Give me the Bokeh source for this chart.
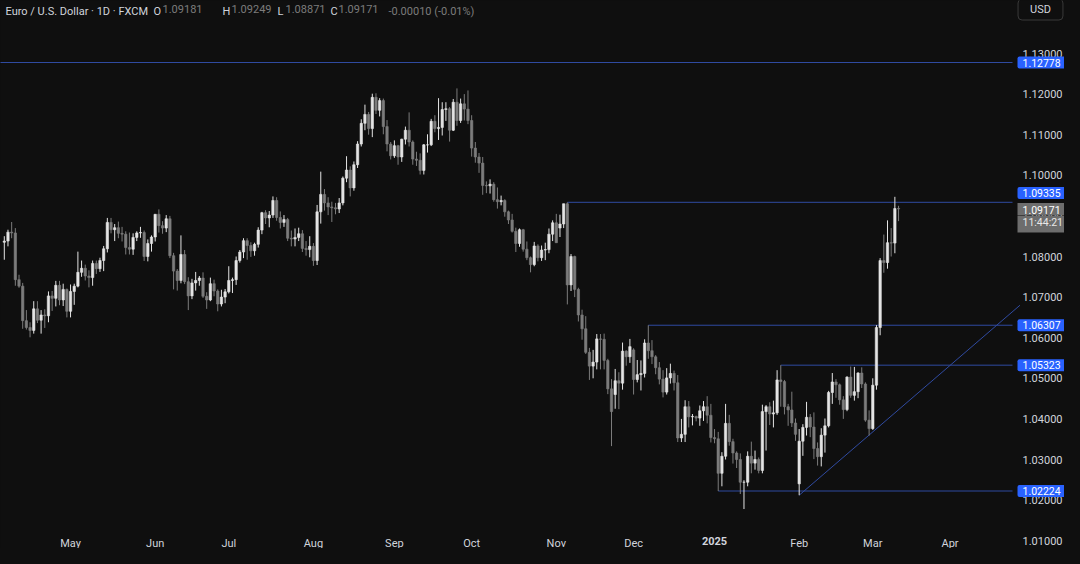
import numpy as np
import pandas as pd
from bokeh.plotting import figure
from bokeh.models import ColumnDataSource, Label, Range1d
from bokeh.core.properties import value
from bokeh.embed import file_html
from bokeh.resources import INLINE

# ---------------- data (EUR/USD daily, FXCM) ----------------
first_day = "2024-04-05"
last_day = "2025-03-12"

opens = [
    # Apr 2024
    1.0835, 1.0838, 1.0860, 1.0858, 1.0743, 1.0727, 1.0642, 1.0625, 1.0618, 1.0671, 1.0643, 1.0656, 1.0654, 1.0703, 1.0697, 1.0729, 1.0693, 1.0719,
    # May
    1.0665, 1.0714, 1.0727, 1.0761, 1.0771, 1.0752, 1.0748, 1.0783, 1.0770, 1.0790, 1.0819, 1.0884, 1.0866, 1.0871, 1.0857, 1.0855, 1.0822, 1.0818, 1.0847, 1.0858, 1.0859, 1.0800, 1.0832,
    # Jun
    1.0848, 1.0904, 1.0876, 1.0870, 1.0893, 1.0802, 1.0764, 1.0741, 1.0805, 1.0738, 1.0703, 1.0735, 1.0741, 1.0747, 1.0702, 1.0693, 1.0733, 1.0715, 1.0683, 1.0700,
    # Jul
    1.0713, 1.0741, 1.0743, 1.0790, 1.0811, 1.0839, 1.0827, 1.0814, 1.0830, 1.0865, 1.0908, 1.0895, 1.0902, 1.0938, 1.0896, 1.0884, 1.0891, 1.0845, 1.0843, 1.0847, 1.0856, 1.0820, 1.0817,
    # Aug
    1.0825, 1.0790, 1.0910, 1.0953, 1.0932, 1.0922, 1.0920, 1.0917, 1.0932, 1.0993, 1.1013, 1.0969, 1.1026, 1.1077, 1.1128, 1.1150, 1.1115, 1.1192, 1.1160, 1.1184, 1.1120, 1.1077,
    # Sep
    1.1048, 1.1073, 1.1045, 1.1089, 1.1111, 1.1082, 1.1040, 1.1037, 1.1012, 1.1075, 1.1075, 1.1133, 1.1115, 1.1118, 1.1162, 1.1164, 1.1111, 1.1180, 1.1135, 1.1176, 1.1163,
    # Oct
    1.1135, 1.1067, 1.1045, 1.1030, 1.0975, 1.0974, 1.0978, 1.0940, 1.0935, 1.0938, 1.0910, 1.0890, 1.0862, 1.0832, 1.0866, 1.0818, 1.0797, 1.0780, 1.0826, 1.0797, 1.0816, 1.0817, 1.0855,
    # Nov
    1.0883, 1.0870, 1.0880, 1.0930, 1.0730, 1.0800, 1.0719, 1.0656, 1.0622, 1.0564, 1.0530, 1.0540, 1.0597, 1.0596, 1.0544, 1.0474, 1.0460, 1.0494, 1.0488, 1.0567, 1.0553,
    # Dec
    1.0570, 1.0497, 1.0509, 1.0512, 1.0587, 1.0568, 1.0553, 1.0526, 1.0498, 1.0466, 1.0501, 1.0512, 1.0489, 1.0353, 1.0362, 1.0430, 1.0405, 1.0406, 1.0402, 1.0420, 1.0430, 1.0409,
    # Jan 2025
    1.0354, 1.0351, 1.0266, 1.0308, 1.0389, 1.0344, 1.0316, 1.0300, 1.0244, 1.0244, 1.0308, 1.0291, 1.0300, 1.0273, 1.0418, 1.0430, 1.0412, 1.0415, 1.0496, 1.0492, 1.0430, 1.0422, 1.0390,
    # Feb
    1.0240, 1.0345, 1.0379, 1.0404, 1.0380, 1.0327, 1.0307, 1.0360, 1.0383, 1.0465, 1.0491, 1.0484, 1.0447, 1.0423, 1.0503, 1.0458, 1.0467, 1.0513, 1.0486, 1.0397,
    # Mar
    1.0376, 1.0483, 1.0625, 1.0790, 1.0785, 1.0834, 1.0833, 1.09181,
]
highs = [
    1.0850, 1.0866, 1.0885, 1.0870, 1.0755, 1.0735, 1.0668, 1.0638, 1.0690, 1.0690, 1.0668, 1.0670, 1.0714, 1.0715, 1.0740, 1.0740, 1.0733, 1.0721,
    1.0731, 1.0733, 1.0812, 1.0790, 1.0780, 1.0766, 1.0790, 1.0790, 1.0797, 1.0826, 1.0895, 1.0895, 1.0880, 1.0886, 1.0873, 1.0862, 1.0859, 1.0857, 1.0862, 1.0873, 1.0864, 1.0842, 1.0852,
    1.0904, 1.0916, 1.0887, 1.0902, 1.0900, 1.0809, 1.0769, 1.0852, 1.0816, 1.0749, 1.0745, 1.0762, 1.0752, 1.0761, 1.0712, 1.0748, 1.0743, 1.0719, 1.0718, 1.0720,
    1.0776, 1.0748, 1.0800, 1.0816, 1.0845, 1.0845, 1.0835, 1.0834, 1.0872, 1.0910, 1.0914, 1.0912, 1.0948, 1.0946, 1.0911, 1.0902, 1.0895, 1.0864, 1.0869, 1.0871, 1.0865, 1.0838, 1.0850,
    1.0833, 1.0927, 1.1009, 1.0966, 1.0946, 1.0935, 1.0932, 1.0944, 1.0997, 1.1047, 1.1022, 1.1034, 1.1084, 1.1138, 1.1174, 1.1156, 1.1201, 1.1202, 1.1190, 1.1189, 1.1136, 1.1082,
    1.1086, 1.1075, 1.1090, 1.1120, 1.1155, 1.1086, 1.1058, 1.1054, 1.1077, 1.1101, 1.1139, 1.1148, 1.1190, 1.1180, 1.1180, 1.1168, 1.1188, 1.1214, 1.1189, 1.1200, 1.1209,
    1.1148, 1.1082, 1.1055, 1.1045, 1.0985, 1.0990, 1.0983, 1.0970, 1.0950, 1.0941, 1.0913, 1.0905, 1.0871, 1.0869, 1.0868, 1.0837, 1.0800, 1.0836, 1.0830, 1.0827, 1.0834, 1.0869, 1.0889,
    1.0905, 1.0903, 1.0930, 1.09335, 1.0806, 1.0802, 1.0723, 1.0669, 1.0653, 1.0575, 1.0570, 1.0609, 1.0609, 1.0610, 1.0548, 1.0498, 1.0523, 1.0515, 1.0588, 1.0569, 1.0597,
    1.0574, 1.0545, 1.0544, 1.0596, 1.06307, 1.0594, 1.0557, 1.0540, 1.0520, 1.0525, 1.0536, 1.0519, 1.0508, 1.0400, 1.0446, 1.0444, 1.0412, 1.0408, 1.0433, 1.0444, 1.0456, 1.0437,
    1.0375, 1.0368, 1.0318, 1.0437, 1.0410, 1.0351, 1.0320, 1.0315, 1.0249, 1.0320, 1.0344, 1.0322, 1.0305, 1.0435, 1.0434, 1.0441, 1.0445, 1.0520, 1.05323, 1.0496, 1.0437, 1.0467, 1.0401,
    1.0375, 1.0387, 1.0442, 1.0412, 1.0416, 1.0342, 1.0377, 1.0401, 1.0469, 1.0513, 1.0498, 1.0487, 1.0456, 1.0505, 1.0529, 1.0528, 1.0515, 1.0527, 1.0490, 1.0421,
    1.0500, 1.0631, 1.0796, 1.0854, 1.0889, 1.0870, 1.0947, 1.09249,
]
lows = [
    1.0792, 1.0825, 1.0845, 1.0728, 1.0723, 1.0622, 1.0620, 1.0601, 1.0610, 1.0636, 1.0610, 1.0624, 1.0638, 1.0666, 1.0677, 1.0680, 1.0678, 1.0650,
    1.0650, 1.0681, 1.0724, 1.0750, 1.0741, 1.0724, 1.0728, 1.0757, 1.0762, 1.0764, 1.0810, 1.0857, 1.0838, 1.0845, 1.0837, 1.0805, 1.0805, 1.0804, 1.0838, 1.0846, 1.0789, 1.0788, 1.0812,
    1.0837, 1.0859, 1.0856, 1.0860, 1.0796, 1.0719, 1.0716, 1.0734, 1.0732, 1.0668, 1.0695, 1.0716, 1.0728, 1.0698, 1.0671, 1.0690, 1.0702, 1.0665, 1.0677, 1.0685,
    1.0709, 1.0710, 1.0730, 1.0785, 1.0796, 1.0792, 1.0799, 1.0802, 1.0822, 1.0855, 1.0880, 1.0872, 1.0895, 1.0888, 1.0869, 1.0873, 1.0838, 1.0825, 1.0825, 1.0838, 1.0811, 1.0802, 1.0798,
    1.0777, 1.0779, 1.0881, 1.0913, 1.0902, 1.0885, 1.0904, 1.0907, 1.0926, 1.0983, 1.0948, 1.0962, 1.1018, 1.1071, 1.1111, 1.1100, 1.1094, 1.1151, 1.1145, 1.1101, 1.1059, 1.1039,
    1.1043, 1.1026, 1.1033, 1.1076, 1.1071, 1.1026, 1.1023, 1.1002, 1.1002, 1.1056, 1.1072, 1.1106, 1.1087, 1.1098, 1.1134, 1.1083, 1.1109, 1.1122, 1.1129, 1.1135, 1.1126,
    1.1046, 1.1031, 1.1006, 1.0952, 1.0956, 1.0955, 1.0935, 1.0918, 1.0926, 1.0898, 1.0880, 1.0859, 1.0811, 1.0824, 1.0812, 1.0791, 1.0761, 1.0776, 1.0788, 1.0789, 1.0791, 1.0808, 1.0838,
    1.0834, 1.0848, 1.0870, 1.0682, 1.0715, 1.0700, 1.0640, 1.0595, 1.0560, 1.0496, 1.0500, 1.0522, 1.0522, 1.0522, 1.0461, 1.0333, 1.0425, 1.0424, 1.0472, 1.0531, 1.0538,
    1.0460, 1.0490, 1.0470, 1.0502, 1.0548, 1.0535, 1.0510, 1.0485, 1.0453, 1.0460, 1.0487, 1.0470, 1.0343, 1.0343, 1.0343, 1.0379, 1.0384, 1.0394, 1.0383, 1.0395, 1.0389, 1.0342,
    1.0340, 1.02224, 1.0234, 1.0300, 1.0334, 1.0290, 1.0279, 1.0215, 1.0178, 1.0234, 1.0266, 1.0275, 1.0266, 1.0266, 1.0322, 1.0385, 1.0379, 1.0410, 1.0430, 1.0411, 1.0383, 1.0380, 1.0346,
    1.0212, 1.0309, 1.0359, 1.0355, 1.0301, 1.0285, 1.0283, 1.0317, 1.0379, 1.0437, 1.0452, 1.0435, 1.0400, 1.0419, 1.0452, 1.0445, 1.0451, 1.0476, 1.0393, 1.0359,
    1.0373, 1.0472, 1.0606, 1.0760, 1.0770, 1.0800, 1.0808, 1.08871,
]
closes = [
    1.0838, 1.0860, 1.0858, 1.0743, 1.0727, 1.0642, 1.0625, 1.0618, 1.0671, 1.0643, 1.0656, 1.0654, 1.0703, 1.0697, 1.0729, 1.0693, 1.0719, 1.0665,
    1.0714, 1.0727, 1.0761, 1.0771, 1.0752, 1.0748, 1.0783, 1.0770, 1.0790, 1.0819, 1.0884, 1.0866, 1.0871, 1.0857, 1.0855, 1.0822, 1.0818, 1.0847, 1.0858, 1.0859, 1.0800, 1.0832, 1.0848,
    1.0904, 1.0876, 1.0870, 1.0893, 1.0802, 1.0764, 1.0741, 1.0805, 1.0738, 1.0703, 1.0735, 1.0741, 1.0747, 1.0702, 1.0693, 1.0733, 1.0715, 1.0683, 1.0700, 1.0713,
    1.0741, 1.0743, 1.0790, 1.0811, 1.0839, 1.0827, 1.0814, 1.0830, 1.0865, 1.0908, 1.0895, 1.0902, 1.0938, 1.0896, 1.0884, 1.0891, 1.0845, 1.0843, 1.0847, 1.0856, 1.0820, 1.0817, 1.0825,
    1.0790, 1.0910, 1.0953, 1.0932, 1.0922, 1.0920, 1.0917, 1.0932, 1.0993, 1.1013, 1.0969, 1.1026, 1.1077, 1.1128, 1.1150, 1.1115, 1.1192, 1.1160, 1.1184, 1.1120, 1.1077, 1.1048,
    1.1073, 1.1045, 1.1089, 1.1111, 1.1082, 1.1040, 1.1037, 1.1012, 1.1075, 1.1075, 1.1133, 1.1115, 1.1118, 1.1162, 1.1164, 1.1111, 1.1180, 1.1135, 1.1176, 1.1163, 1.1135,
    1.1067, 1.1045, 1.1030, 1.0975, 1.0974, 1.0978, 1.0940, 1.0935, 1.0938, 1.0910, 1.0890, 1.0862, 1.0832, 1.0866, 1.0818, 1.0797, 1.0780, 1.0826, 1.0797, 1.0816, 1.0817, 1.0855, 1.0883,
    1.0834, 1.0880, 1.0930, 1.0730, 1.0800, 1.0719, 1.0656, 1.0622, 1.0564, 1.0530, 1.0540, 1.0597, 1.0596, 1.0544, 1.0474, 1.0418, 1.0494, 1.0488, 1.0567, 1.0553, 1.0578,
    1.0497, 1.0509, 1.0512, 1.0587, 1.0568, 1.0553, 1.0526, 1.0498, 1.0466, 1.0501, 1.0512, 1.0489, 1.0353, 1.0362, 1.0430, 1.0405, 1.0406, 1.0402, 1.0420, 1.0430, 1.0409, 1.0354,
    1.0351, 1.0266, 1.0308, 1.0389, 1.0344, 1.0316, 1.0300, 1.0244, 1.0244, 1.0308, 1.0291, 1.0300, 1.0273, 1.0418, 1.0430, 1.0412, 1.0415, 1.0496, 1.0492, 1.0430, 1.0422, 1.0390, 1.0362,
    1.0345, 1.0379, 1.0404, 1.0380, 1.0327, 1.0307, 1.0360, 1.0383, 1.0465, 1.0491, 1.0484, 1.0447, 1.0423, 1.0503, 1.0458, 1.0467, 1.0513, 1.0486, 1.0397, 1.0376,
    1.0483, 1.0625, 1.0790, 1.0785, 1.0834, 1.0833, 1.09181, 1.09171,
]

# horizontal levels drawn on the chart and the day each one starts
level_prices = [1.12778, 1.09335, 1.06307, 1.05323, 1.02224]
level_starts = ["2023-07-18", "2024-11-06", "2024-12-06", "2025-01-27", "2025-01-02"]

# rising trend line (two anchor points)
trend_dates = ["2025-02-03", "2025-04-28"]
trend_prices = [1.0212, 1.0680]

price_ticks = [1.01, 1.02, 1.03, 1.04, 1.05, 1.06, 1.07, 1.08, 1.09, 1.10, 1.11, 1.12, 1.13]
month_labels = ["May", "Jun", "Jul", "Aug", "Sep", "Oct", "Nov", "Dec", "2025", "Feb", "Mar", "Apr"]
month_starts = ["2024-05-01", "2024-06-03", "2024-07-01", "2024-08-01", "2024-09-02", "2024-10-01",
                "2024-11-01", "2024-12-02", "2025-01-01", "2025-02-03", "2025-03-03", "2025-04-01"]

header_title = "Euro / U.S. Dollar \u00b7 1D \u00b7 FXCM"
ohlc_letters = ["O", "H", "L", "C"]
last_ohlc = ["1.09181", "1.09249", "1.08871", "1.09171"]
last_change = "-0.00010 (-0.01%)"
countdown = "11:44:21"
currency = "USD"

# ---------------- layout constants (pixels) ----------------
W, H = 1064, 548
PX_PER_BAR = 3.68
FIRST_BAR_PX = 3.8
PX_PER_PRICE = 4060.0
PRICE_TOP_PX = 53            # pixel row of 1.13000
PANE_RIGHT_PX = 1012         # where the price scale column starts
X0 = -FIRST_BAR_PX / PX_PER_BAR
X1 = X0 + W / PX_PER_BAR
Y1 = 1.13 + PRICE_TOP_PX / PX_PER_PRICE
Y0 = Y1 - H / PX_PER_PRICE

BG = "#0f0f0f"
UP = "#e4e4e4"
DOWN = "#7c7c7c"
LEVEL = "#2f4aa0"
LABEL_BG = "#2962ff"
TXT = "#d1d4dc"
DIM = "#7c7c7c"
FONT = "Roboto"


def bar_index(d):
    return int(np.busday_count(first_day, d))


def fx(px):
    return X0 + px / PX_PER_BAR


def fy(py):
    return Y1 - py / PX_PER_PRICE


n = len(closes)
xs = np.arange(n)
o = np.array(opens)
c = np.array(closes)
colors = [UP if cc >= oo else DOWN for oo, cc in zip(o, c)]
src = ColumnDataSource(dict(x=xs, o=o, h=highs, l=lows, c=c,
                            top=np.maximum(o, c), bottom=np.minimum(o, c), color=colors))

p = figure(width=W, height=H, output_backend="svg", toolbar_location=None, title=None,
           x_range=Range1d(X0, X1), y_range=Range1d(Y0, Y1),
           x_axis_location=None, y_axis_location=None,
           min_border=0, min_border_left=0, min_border_right=0,
           min_border_top=0, min_border_bottom=0)
p.background_fill_color = BG
p.border_fill_color = BG
p.outline_line_color = None
p.grid.visible = False

# price scale tick labels
p.text(x=[fx(1022)] * len(price_ticks), y=price_ticks, text=[f"{t:.5f}" for t in price_ticks],
       text_color=TXT, text_font=value(FONT), text_font_size="11px",
       text_align="left", text_baseline="middle")

# levels and trend line
lvl_x0 = [bar_index(d) for d in level_starts]
p.segment(x0=lvl_x0, y0=level_prices, x1=[fx(PANE_RIGHT_PX)] * len(level_prices), y1=level_prices,
          line_color=LEVEL, line_width=1)
p.line(x=[bar_index(d) for d in trend_dates], y=trend_prices, line_color=LEVEL, line_width=1)

# candles
p.segment(x0="x", y0="h", x1="x", y1="l", source=src, line_color="color", line_width=1)
p.vbar(x="x", width=0.65, top="top", bottom="bottom", source=src,
       fill_color="color", line_color="color", line_width=0.6)

# price-scale boxes
last_close = closes[-1]
box_half = 8.0 / PX_PER_PRICE
BOX_X = fx(PANE_RIGHT_PX + 5)
for lv in level_prices:
    ly = lv
    if abs(lv - last_close) < 2 * box_half:
        ly = last_close + 2 * box_half
    p.add_layout(Label(x=BOX_X, y=ly, text=f"{lv:.5f}", text_color="white",
                       text_font=FONT, text_font_size="10.5px", text_align="left",
                       text_baseline="middle", background_fill_color=LABEL_BG,
                       padding=dict(left=5, right=5, top=2, bottom=2), border_radius=2))
p.add_layout(Label(x=BOX_X, y=last_close, text=f"{last_close:.5f}",
                   text_color="white", text_font=FONT, text_font_size="10.5px", text_align="left",
                   text_baseline="middle", background_fill_color="#6d6d6d",
                   padding=dict(left=5, right=6, top=3, bottom=1)))
p.add_layout(Label(x=BOX_X, y=last_close - 15 / PX_PER_PRICE, text=countdown,
                   text_color="#e8e8e8", text_font=FONT, text_font_size="10.5px", text_align="left",
                   text_baseline="middle", background_fill_color="#6d6d6d",
                   padding=dict(left=5, right=3, top=1, bottom=3)))

# currency button
p.add_layout(Label(x=fx(1040), y=fy(9), text=currency, text_color=TXT, text_font=FONT,
                   text_font_size="11px", text_align="center", text_baseline="middle",
                   background_fill_color=BG, border_line_color="#3a3a3a", border_line_width=1,
                   padding=dict(left=12, right=12, top=4, bottom=4), border_radius=4))

# time scale labels
for d, lab in zip(month_starts, month_labels):
    p.add_layout(Label(x=bar_index(d), y=fy(536), text=lab, text_color=TXT,
                       text_font=FONT, text_font_size="11px",
                       text_font_style="bold" if lab.isdigit() else "normal",
                       text_align="center", text_baseline="top"))

# header legend
p.add_layout(Label(x=fx(5), y=fy(4), text=header_title, text_color=TXT, text_font=FONT,
                   text_font_size="11px", text_align="left", text_baseline="top"))
letter_px = [153, 222, 277, 330]
value_px = [162, 231, 285, 338]
for lt, vl, lx, vx in zip(ohlc_letters, last_ohlc, letter_px, value_px):
    p.add_layout(Label(x=fx(lx), y=fy(4), text=lt, text_color=TXT, text_font=FONT,
                       text_font_size="11px", text_align="left", text_baseline="top"))
    p.add_layout(Label(x=fx(vx), y=fy(4), text=vl, text_color=DIM, text_font=FONT,
                       text_font_size="11px", text_align="left", text_baseline="top"))
p.add_layout(Label(x=fx(388), y=fy(4), text=last_change, text_color=DIM, text_font=FONT,
                   text_font_size="11px", text_align="left", text_baseline="top"))

html = file_html(p, INLINE)
html = html.replace("</head>", "<style>html, body { background: #0f0f0f !important; }</style></head>", 1)
open("out.html", "w").write(html)
